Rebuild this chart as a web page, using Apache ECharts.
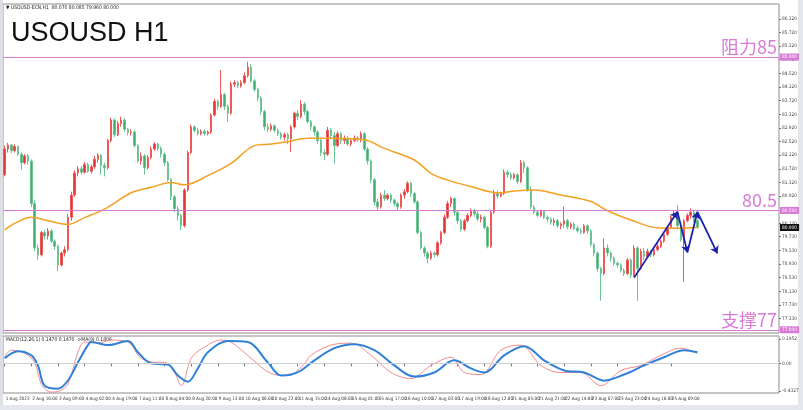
<!DOCTYPE html>
<html><head><meta charset="utf-8">
<script src="https://cdn.jsdelivr.net/npm/echarts@6/dist/echarts.min.js"></script>
<style>html,body{margin:0;padding:0;background:#fff}#c{width:803px;height:410px}</style>
</head><body><div id="c"></div>
<script>
// ---- data (2-hour bars) ----
const tickLabels = ['1 Aug 2023','2 Aug 16:00','3 Aug 09:00','4 Aug 02:00','4 Aug 19:00','7 Aug 11:00','8 Aug 04:00','8 Aug 20:00','9 Aug 13:00','10 Aug 06:00','10 Aug 22:00','11 Aug 15:00','14 Aug 08:00','15 Aug 01:00','15 Aug 17:00','16 Aug 10:00','17 Aug 03:00','17 Aug 19:00','18 Aug 12:00','21 Aug 05:00','21 Aug 21:00','22 Aug 14:00','23 Aug 07:00','23 Aug 23:00','24 Aug 16:00','25 Aug 09:00','28 Aug 02:00'];
const barsPerTick = 8;
const slotCount = 233;
// [open, close, low, high]
const candles = [
[81.55,82.30,81.50,82.40],[82.30,82.42,82.20,82.48],[82.42,82.25,82.18,82.45],[82.25,82.38,82.20,82.44],[82.38,82.15,82.10,82.40],
[82.15,81.90,81.70,82.20],[81.90,82.10,81.85,82.15],[82.10,81.95,81.85,82.15],[81.95,80.70,80.60,82.00],[80.70,79.40,79.30,80.80],
[79.40,79.20,79.05,79.50],[79.20,79.85,79.15,79.90],[79.85,79.75,79.65,79.92],[79.75,79.90,79.65,79.98],[79.90,79.60,79.55,79.95],
[79.60,79.45,79.35,79.65],[79.45,78.90,78.72,79.50],[78.90,79.25,78.85,79.30],[79.25,79.35,79.15,79.45],[79.35,80.30,79.30,80.40],
[80.30,80.95,80.20,81.05],[80.95,81.60,80.90,81.68],[81.60,81.72,81.50,81.80],[81.72,81.62,81.55,81.80],[81.62,81.85,81.58,81.92],
[81.85,81.65,81.60,81.90],[81.65,81.78,81.58,81.85],[81.78,82.00,81.72,82.10],[82.00,82.12,81.90,82.18],[82.12,81.82,81.55,82.15],
[81.82,81.75,81.50,81.90],[81.75,82.55,81.70,82.60],[82.55,83.15,82.50,83.22],[83.15,82.72,82.65,83.20],[82.72,83.05,82.68,83.12],
[83.05,83.15,82.95,83.25],[83.15,82.88,82.80,83.20],[82.88,82.78,82.70,82.92],[82.78,82.80,82.70,82.88],[82.80,82.40,82.35,82.85],
[82.40,81.95,81.90,82.45],[81.95,82.10,81.85,82.20],[82.10,81.75,81.55,82.15],[81.75,82.05,81.70,82.12],[82.05,82.30,82.00,82.38],
[82.30,82.45,82.25,82.50],[82.45,82.32,82.25,82.48],[82.32,82.15,82.05,82.38],[82.15,81.90,81.80,82.20],[81.90,81.40,81.35,81.95],
[81.40,80.90,80.80,81.45],[80.90,80.55,80.45,80.95],[80.55,80.35,80.20,80.62],[80.35,80.05,79.92,80.40],[80.05,81.10,80.00,81.15],
[81.10,82.20,81.05,82.25],[82.20,82.95,82.15,83.02],[82.95,82.85,82.78,83.00],[82.85,82.75,82.70,82.92],[82.75,82.82,82.70,82.88],
[82.82,82.75,82.70,82.88],[82.75,82.80,82.70,82.85],[82.80,83.30,82.75,83.35],[83.30,83.70,83.25,83.78],[83.70,83.55,83.45,83.75],
[83.55,83.90,83.50,84.62],[83.90,83.55,83.45,83.95],[83.55,83.35,83.10,83.60],[83.35,84.20,83.30,84.28],[84.20,84.25,84.12,84.32],
[84.25,84.15,84.08,84.30],[84.15,84.25,84.10,84.32],[84.25,84.45,84.20,84.55],[84.45,84.70,84.40,84.86],[84.70,84.30,84.25,84.78],
[84.30,84.05,83.98,84.35],[84.05,83.80,83.70,84.10],[83.80,83.40,83.30,83.85],[83.40,82.95,82.85,83.45],[82.95,82.88,82.80,83.05],
[82.88,82.98,82.82,83.05],[82.98,82.85,82.78,83.02],[82.85,82.75,82.68,82.90],[82.75,82.65,82.58,82.80],[82.65,82.72,82.55,82.78],
[82.72,82.60,82.45,82.78],[82.60,82.95,82.22,83.00],[82.95,83.35,82.90,83.40],[83.35,83.25,83.15,83.45],[83.25,83.62,83.20,83.74],
[83.62,83.40,83.30,83.68],[83.40,83.10,83.05,83.45],[83.10,82.95,82.85,83.15],[82.95,82.80,82.70,83.00],[82.80,82.55,82.45,82.85],
[82.55,82.20,82.10,82.60],[82.20,82.15,81.98,82.30],[82.15,82.85,82.10,82.95],[82.85,82.70,82.60,82.92],[82.70,82.40,81.88,82.80],
[82.40,82.75,82.35,82.82],[82.75,82.55,82.45,82.80],[82.55,82.62,82.45,82.70],[82.62,82.45,82.40,82.68],[82.45,82.55,82.38,82.60],
[82.55,82.62,82.50,82.70],[82.62,82.58,82.50,82.68],[82.58,82.75,82.50,82.82],[82.75,82.30,82.25,82.80],[82.30,81.95,81.85,82.35],
[81.95,81.40,81.30,82.00],[81.40,80.75,80.65,81.45],[80.75,80.60,80.50,80.85],[80.60,80.95,80.55,81.02],[80.95,80.85,80.78,81.10],
[80.85,80.95,80.80,81.00],[80.95,80.80,80.72,81.00],[80.80,80.70,80.62,80.85],[80.70,80.60,80.51,80.75],[80.60,80.95,80.55,81.00],
[80.95,81.05,80.85,81.12],[81.05,81.30,81.00,81.36],[81.30,81.00,80.90,81.35],[81.00,80.75,80.70,81.05],[80.75,79.85,79.80,80.80],
[79.85,79.40,79.35,79.90],[79.40,79.25,79.15,79.45],[79.25,79.10,78.95,79.30],[79.10,79.25,79.05,79.32],[79.25,79.20,79.12,79.30],
[79.20,79.55,79.15,79.60],[79.55,79.85,79.50,79.90],[79.85,80.30,79.80,80.38],[80.30,80.70,80.25,80.78],[80.70,80.85,80.60,80.90],
[80.85,80.45,80.35,80.88],[80.45,80.20,80.10,80.50],[80.20,79.95,79.88,80.25],[79.95,80.20,79.90,80.25],[80.20,80.35,80.15,80.42],
[80.35,80.50,80.30,80.56],[80.50,80.40,80.32,80.55],[80.40,80.25,80.18,80.48],[80.25,80.30,80.15,80.38],[80.30,80.00,79.95,80.35],
[80.00,79.45,79.39,80.05],[79.45,80.45,79.40,80.52],[80.45,81.00,80.40,81.10],[81.00,80.92,80.85,81.08],[80.92,81.00,80.88,81.05],
[81.00,81.62,80.95,81.70],[81.62,81.55,81.45,81.68],[81.55,81.45,81.40,81.62],[81.45,81.55,81.40,81.60],[81.55,81.35,81.28,81.58],
[81.35,81.90,81.30,81.98],[81.90,81.75,81.60,81.95],[81.75,81.10,81.05,81.80],[81.10,80.60,80.55,81.20],[80.60,80.45,80.40,80.65],
[80.45,80.35,80.30,80.50],[80.35,80.48,80.30,80.52],[80.48,80.30,80.25,80.50],[80.30,80.25,80.15,80.35],[80.25,80.15,80.08,80.30],
[80.15,80.20,80.05,80.28],[80.20,80.05,79.98,80.25],[80.05,80.10,79.95,80.15],[80.10,80.20,80.00,80.61],[80.20,80.02,79.95,80.25],
[80.02,80.10,79.95,80.15],[80.10,79.98,79.92,80.15],[79.98,79.90,79.85,80.05],[79.90,79.85,79.80,79.98],[79.85,80.05,79.82,80.10],
[80.05,79.90,79.82,80.08],[79.90,79.50,79.45,79.95],[79.50,79.25,79.15,79.55],[79.25,78.80,78.70,79.30],[78.80,78.65,77.85,78.85],
[78.65,79.40,78.60,79.68],[79.40,79.25,79.15,79.50],[79.25,79.10,79.00,79.30],[79.10,78.95,78.88,79.15],[78.95,78.90,78.82,79.00],
[78.90,78.75,78.68,78.95],[78.75,78.65,78.58,78.80],[78.65,79.05,78.60,79.10],[79.05,78.60,78.51,79.10],[78.60,79.40,78.55,79.48],
[79.40,78.80,77.85,79.45],[78.80,79.30,78.75,79.38],[79.30,79.15,79.05,79.40],[79.15,79.30,79.10,79.38],[79.30,79.20,79.12,79.35],
[79.20,79.35,79.15,79.42],[79.35,79.45,79.30,79.55],[79.45,79.60,79.40,79.65],[79.60,79.80,79.55,79.85],[79.80,80.00,79.75,80.05],
[80.00,80.30,79.95,80.35],[80.30,80.42,80.25,80.50],[80.42,80.05,79.95,80.66],[80.05,79.65,79.58,80.10],[79.65,80.20,78.41,80.25],
[80.20,80.35,80.15,80.42],[80.35,80.45,80.25,80.56],[80.45,80.20,80.15,80.52],[80.20,80.00,79.96,80.25]
];
// moving average line, read at points [barIndex, price]
const maPoints = [[0,79.93],[3,80.12],[8,80.30],[13,80.20],[19,80.09],[24,80.29],[30,80.54],[38,81.02],[44,81.18],[50,81.32],[54,81.25],[61,81.52],[68,81.88],[75,82.40],[79,82.44],[84,82.50],[91,82.62],[98,82.62],[108,82.57],[114,82.32],[123,81.98],[128,81.59],[133,81.39],[140,81.20],[148,81.02],[154,81.08],[159,81.10],[167,80.95],[176,80.76],[181,80.49],[188,80.22],[196,79.99],[202,79.98],[208,80.01]];
// MACD main (red) and signal (blue), [barIndex, value]
const macdMain = [[0,0.089],[2,0.193],[6,0.148],[9,0.015],[11,-0.30],[14,-0.42],[16,-0.41],[19,-0.30],[22,0.163],[24,0.311],[28,0.296],[32,0.34],[37,0.311],[41,0.074],[46,0.015],[48,0.015],[51,-0.133],[53,-0.326],[56,0.074],[59,0.207],[65,0.34],[68,0.311],[74,0.074],[80,-0.148],[85,-0.178],[89,-0.059],[92,0.118],[98,0.267],[104,0.296],[110,0.118],[116,-0.133],[122,-0.222],[128,-0.03],[134,0.089],[138,-0.133],[143,-0.163],[149,0.193],[155,0.267],[161,-0.03],[167,-0.133],[173,-0.133],[179,-0.326],[185,-0.104],[191,-0.03],[197,0.118],[203,0.222],[208,0.148]];
const macdSignal = [[0,0.074],[4,0.178],[8,0.118],[10,-0.03],[12,-0.326],[16,-0.37],[19,-0.25],[22,0.015],[25,0.267],[26,0.311],[31,0.267],[37,0.326],[40,0.163],[44,0],[49,-0.015],[52,-0.178],[55,-0.267],[58,-0.074],[61,0.163],[67,0.326],[73,0.311],[79,0.015],[83,-0.178],[86,-0.163],[89,-0.104],[93,0.044],[99,0.222],[105,0.281],[111,0.193],[117,-0.03],[123,-0.193],[129,-0.133],[135,0.044],[140,-0.074],[144,-0.133],[150,0.118],[156,0.252],[162,0.044],[168,-0.104],[174,-0.133],[180,-0.252],[186,-0.163],[192,-0.03],[198,0.089],[204,0.193],[208,0.163]];
const priceTicks = [86.12,85.72,85.32,84.92,84.52,84.12,83.72,83.32,82.92,82.52,82.12,81.72,81.32,80.92,80.12,79.73,79.33,78.93,78.53,78.13,77.73,77.33];
const levels = [85, 80.5, 77];
const levelNames = ['阻力85', '80.5', '支撑77'];
const lastPrice = 80.0;
const macdAxisTexts = ['0.1952', '0.00', '-0.4327'];
const macdAxisValues = [0.356, 0, -0.40];
const arrowPath = [[189,78.53],[202,80.46],[205,79.27],[208,80.46],[214,79.24]];

// ---- chart ----
const categories = [];
for (let i = 0; i < slotCount; i++) categories.push(String(i));
const isTick = (idx) => idx % barsPerTick === 0 && idx / barsPerTick < tickLabels.length;

const pink = '#d77bd7';
const clear = 'rgba(0,0,0,0)';
const smallFont = 'Liberation Sans Narrow, DejaVu Sans Condensed, Arial, sans-serif';
const chart = echarts.init(document.getElementById('c'), null, {renderer: 'canvas'});

const arrowSegments = [];
for (let k = 0; k < arrowPath.length - 1; k++) arrowSegments.push({coords: [arrowPath[k], arrowPath[k + 1]]});

chart.setOption({
  animation: false,
  backgroundColor: '#ffffff',
  textStyle: {fontFamily: 'Liberation Sans, Arial, sans-serif'},
  grid: [
    {left: 3, right: 24, top: 4, height: 329, show: true, borderColor: '#8c8c8c', borderWidth: 1, backgroundColor: '#fff'},
    {left: 3, right: 24, top: 336, height: 57, show: true, borderColor: '#8c8c8c', borderWidth: 1, backgroundColor: '#fff'}
  ],
  xAxis: [
    {type: 'category', gridIndex: 0, data: categories, boundaryGap: true,
     axisLine: {show: false}, axisTick: {show: false}, axisLabel: {show: false}, splitLine: {show: false}},
    {type: 'category', gridIndex: 1, data: categories, boundaryGap: true,
     axisLine: {show: false},
     axisTick: {show: true, alignWithLabel: true, interval: isTick, length: 3, lineStyle: {color: '#777'}},
     axisLabel: {show: true, interval: isTick, align: 'left', fontSize: 4.6, color: '#333', margin: 3,
       fontFamily: smallFont, padding: [0, 0, 0, 1],
       formatter: (v, idx) => isTick(idx) ? tickLabels[idx / barsPerTick] : ''},
     splitLine: {show: false}}
  ],
  yAxis: [
    {type: 'value', gridIndex: 0, position: 'right', min: 76.906, max: 86.554, scale: true,
     splitLine: {show: false}, axisLine: {show: false},
     axisTick: {show: true, length: 2, customValues: priceTicks, lineStyle: {color: '#777'}},
     axisLabel: {customValues: priceTicks, formatter: v => v.toFixed(3), fontSize: 4.8, color: '#444', margin: 3, fontFamily: smallFont}},
    {type: 'value', gridIndex: 1, position: 'right', min: -0.4327, max: 0.40,
     splitLine: {show: false}, axisLine: {show: false},
     axisTick: {show: true, length: 2, customValues: macdAxisValues, lineStyle: {color: '#777'}},
     axisLabel: {customValues: macdAxisValues, fontSize: 4.8, color: '#444', margin: 3, fontFamily: smallFont,
       formatter: v => { const k = macdAxisValues.findIndex(x => Math.abs(x - v) < 1e-6); return k >= 0 ? macdAxisTexts[k] : ''; }}}
  ],
  series: [
    {type: 'candlestick', xAxisIndex: 0, yAxisIndex: 0, data: candles, barWidth: 2,
     itemStyle: {color: '#e8302f', color0: '#3caf6c', borderColor: '#ee5a5a', borderColor0: '#6cc494', borderWidth: 1},
     markLine: {silent: true, symbol: 'none', animation: false,
       data: levels.map((v, k) => ({yAxis: v, lineStyle: {color: pink, width: 1, type: 'solid'},
         label: {position: 'insideEndTop', formatter: levelNames[k], fontSize: 18, color: pink,
           fontFamily: 'Noto Sans CJK SC, Liberation Sans, sans-serif', distance: [2, 1]}}))
     }},
    {type: 'line', xAxisIndex: 0, yAxisIndex: 0, data: maPoints, smooth: 0.35, showSymbol: false,
     lineStyle: {color: '#f4a020', width: 1.5}, z: 3,
     markLine: {silent: true, symbol: 'none', animation: false,
       data: levels.map(v => ({yAxis: v, lineStyle: {color: clear, width: 1},
         label: {position: 'end', formatter: v.toFixed(3), fontSize: 4.8, color: '#fff', backgroundColor: pink, padding: [1, 2], distance: 1, fontFamily: smallFont}}))
         .concat([{yAxis: lastPrice, lineStyle: {color: clear, width: 1},
           label: {position: 'end', formatter: lastPrice.toFixed(3), fontSize: 4.8, color: '#fff', backgroundColor: '#111', padding: [1, 2], distance: 1, fontFamily: smallFont}}])
     }},
    {type: 'lines', coordinateSystem: 'cartesian2d', xAxisIndex: 0, yAxisIndex: 0, z: 5,
     symbol: ['none', 'arrow'], symbolSize: 7,
     lineStyle: {color: '#1b22a8', width: 1.8, opacity: 1},
     data: arrowSegments},
    {type: 'line', xAxisIndex: 1, yAxisIndex: 1, data: macdMain, smooth: 0.35, showSymbol: false,
     lineStyle: {color: '#f28a8a', width: 1},
     markLine: {silent: true, symbol: 'none', animation: false, label: {show: false},
       data: [{yAxis: 0, lineStyle: {color: '#cfcfcf', width: 1, type: 'solid'}}]}},
    {type: 'line', xAxisIndex: 1, yAxisIndex: 1, data: macdSignal, smooth: 0.35, showSymbol: false,
     lineStyle: {color: '#2f80d8', width: 2}}
  ],
  graphic: [
    {type: 'rect', left: 0, top: 0, shape: {width: 3, height: 410}, style: {fill: '#dcdfe4'}, silent: true},
    {type: 'rect', left: 798, top: 0, shape: {width: 5, height: 410}, style: {fill: '#e4e7eb'}, silent: true},
    {type: 'rect', left: 0, top: 405, shape: {width: 803, height: 5}, style: {fill: '#e4e7eb'}, silent: true},
    {type: 'text', left: 6, top: 5, style: {text: '▼ USOUSD-ECN,H1  80.070 80.085 79.960 80.000', fontSize: 5, fill: '#222', fontFamily: smallFont}},
    {type: 'text', left: 11, top: 20, style: {text: 'USOUSD H1', fontSize: 27, fill: '#111', fontFamily: 'Liberation Sans, Arial'}},
    {type: 'text', left: 6, top: 337, style: {text: 'MACD(12,26,1) 0.1470 0.1470 ->MA(9) 0.1806', fontSize: 5, fill: '#222', fontFamily: smallFont}}
  ]
});
</script>
</body></html>
